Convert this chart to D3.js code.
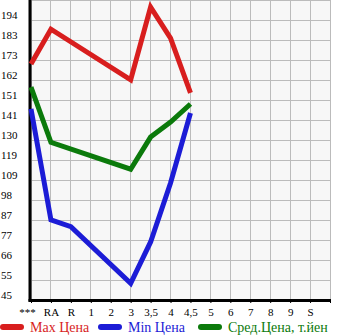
<!DOCTYPE html>
<html><head><meta charset="utf-8">
<script src="https://cdn.jsdelivr.net/npm/d3@7"></script>
<style>body{margin:0;background:#fff}svg{display:block}</style>
</head><body>
<svg id="c" width="345" height="335"></svg>
<script>
const categories = ["***","RA","R","1","2","3","3,5","4","4,5","5","6","7","8","9","S",""];
const maxPrice = [170.6,189.1,null,null,null,162.1,200.9,184.4,155.2,null,null,null,null,null,null,null];
const minPrice = [146.7,87.6,84.0,null,null,53.9,75.9,107.3,144.5,null,null,null,null,null,null,null];
const avgPrice = [158.3,128.9,null,null,null,114.6,131.7,139.7,149.3,null,null,null,null,null,null,null];
const yTickLabels = ["45","55","66","77","87","98","109","119","130","141","151","162","173","183","194"];
const legendLabels = ["Max Цена","Min Цена","Сред.Цена, т.йен"];
const colors = ["#d81e1e","#1c1cd6","#0b7a0b"];

const svg = d3.select("#c");
const L = 31, R = 330, T = 0, B = 300;
const x = d3.scalePoint().domain(categories).range([L, R]);
const yMin = 45, yMax = 194;
const y = d3.scaleLinear().domain([yMin, yMax]).range([B, 20]);
const tickVals = yTickLabels.map((t, i) => yMin + i * (yMax - yMin) / (yTickLabels.length - 1));

svg.append("rect").attr("x", L).attr("y", T).attr("width", R - L).attr("height", B - T).attr("fill", "#f7f7f7");

const grid = svg.append("g").attr("stroke", "#bbbbbb").attr("stroke-width", 1).attr("shape-rendering", "crispEdges");
categories.forEach(c => grid.append("line").attr("x1", x(c)).attr("x2", x(c)).attr("y1", T).attr("y2", B));
grid.append("line").attr("x1", L).attr("x2", R).attr("y1", T + 0.5).attr("y2", T + 0.5);
tickVals.forEach(v => grid.append("line").attr("x1", L).attr("x2", R).attr("y1", Math.round(y(v)) + 0.5).attr("y2", Math.round(y(v)) + 0.5));

// x axis
const xAxis = svg.append("g").attr("transform", `translate(0,${B})`)
  .call(d3.axisBottom(x).tickSize(3).tickSizeOuter(0).tickPadding(5));
xAxis.select(".domain").remove();
xAxis.selectAll("line").attr("stroke", "#000");
xAxis.selectAll("text").attr("font-family", "'Liberation Serif', serif").attr("font-size", 11).attr("fill", "#000");
xAxis.selectAll(".tick").filter(d => d === "***").select("text").attr("dx", -4);

// y labels
svg.append("g").selectAll("text").data(tickVals).join("text")
  .attr("x", 1).attr("y", v => y(v)).attr("dy", "-0.05em")
  .attr("font-family", "'Liberation Serif', serif").attr("font-size", 11).attr("fill", "#000")
  .text((v, i) => yTickLabels[i]);

// axes lines
svg.append("line").attr("x1", L - 1).attr("x2", L - 1).attr("y1", T).attr("y2", B + 1.5).attr("stroke", "#000").attr("stroke-width", 3);
svg.append("line").attr("x1", L - 2.5).attr("x2", R + 1).attr("y1", B + 0.5).attr("y2", B + 0.5).attr("stroke", "#000").attr("stroke-width", 3);

const series = [maxPrice, minPrice, avgPrice];
const line = d3.line().x(d => x(d.c)).y(d => y(d.v));
series.forEach((s, i) => {
  const pts = categories.map((c, j) => ({c, v: s[j]})).filter(d => d.v != null);
  svg.append("path").attr("d", line(pts)).attr("fill", "none").attr("stroke", colors[i])
    .attr("stroke-width", 5).attr("stroke-linejoin", "miter").attr("stroke-linecap", "butt");
});

// legend
const legX = [0, 98, 198];
legendLabels.forEach((t, i) => {
  svg.append("line").attr("x1", legX[i] + 3).attr("x2", legX[i] + 21).attr("y1", 327).attr("y2", 327)
    .attr("stroke", colors[i]).attr("stroke-width", 6).attr("stroke-linecap", "round");
  svg.append("text").attr("x", legX[i] + 30).attr("y", 332)
    .attr("font-family", "'Liberation Serif', serif").attr("font-size", 14).attr("fill", colors[i]).text(t);
});
</script>
</body></html>
